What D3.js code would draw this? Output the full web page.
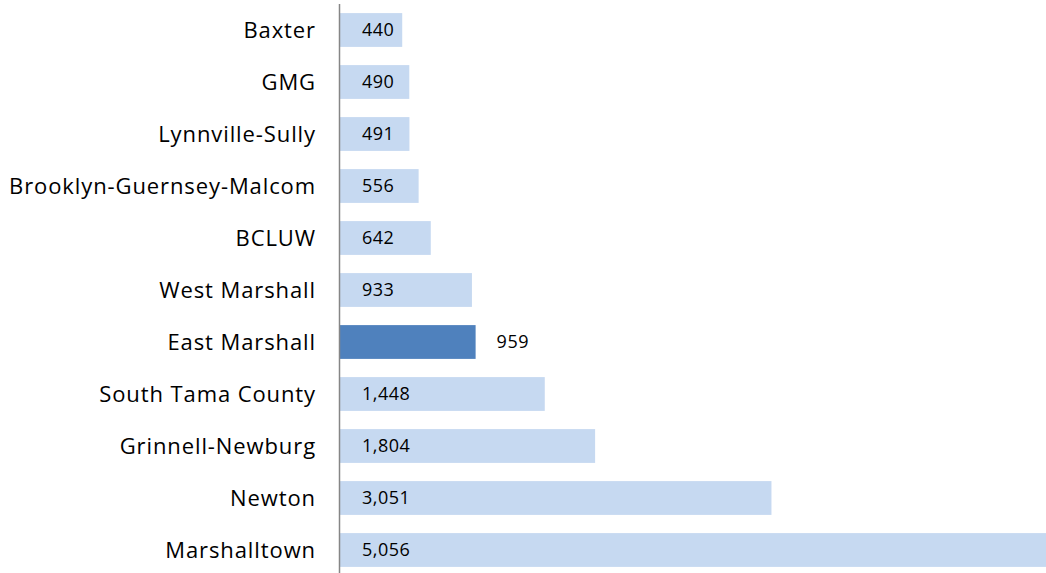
<!DOCTYPE html>
<html><head><meta charset="utf-8">
<script src="https://cdn.jsdelivr.net/npm/d3@7"></script>
<style>body{margin:0;background:#fff}svg{display:block}</style>
</head><body>
<svg id="c" width="1046" height="573"></svg>
<script>
const categories = ["Baxter","GMG","Lynnville-Sully","Brooklyn-Guernsey-Malcom","BCLUW","West Marshall","East Marshall","South Tama County","Grinnell-Newburg","Newton","Marshalltown"];
const values = [440,490,491,556,642,933,959,1448,1804,3051,5056];
const highlight = "East Marshall";

const svg = d3.select("#c");
const x = d3.scaleLinear().domain([0, 5056]).range([340, 1055]);
const y = d3.scaleBand().domain(categories).range([4, 576]).paddingInner(0.35).paddingOuter(0.175);
const fmt = d3.format(",");
const font = "'Open Sans', 'Noto Sans', sans-serif";

const data = categories.map((c,i)=>({c, v: values[i]}));

svg.selectAll("rect.bar").data(data).join("rect")
  .attr("class","bar")
  .attr("x", x(0))
  .attr("y", d=>y(d.c))
  .attr("width", d=>x(d.v)-x(0))
  .attr("height", y.bandwidth())
  .attr("fill", d=>d.c===highlight ? "#4F81BD" : "#C6D9F1");

svg.selectAll("text.val").data(data).join("text")
  .attr("class","val")
  .attr("x", d=>d.c===highlight ? x(d.v)+21 : x(0)+22)
  .attr("y", d=>y(d.c)+y.bandwidth()/2)
  .attr("dy","0.36em")
  .attr("font-family", font)
  .attr("font-size", 18)
  .attr("letter-spacing", 0.5)
  .attr("fill","#000")
  .text(d=>fmt(d.v));

const axis = d3.axisLeft(y).tickSize(0).tickPadding(23);
const g = svg.append("g").attr("transform",`translate(339,0)`).call(axis);
g.select(".domain").remove();
g.selectAll("text").attr("font-family", font).attr("font-size", 22).attr("letter-spacing", 0.9)
  .attr("fill","#000").attr("dy","0.36em");
svg.append("line").attr("x1",339.5).attr("x2",339.5).attr("y1",4).attr("y2",573)
  .attr("stroke","#868686").attr("stroke-width",1.5);
</script>
</body></html>
